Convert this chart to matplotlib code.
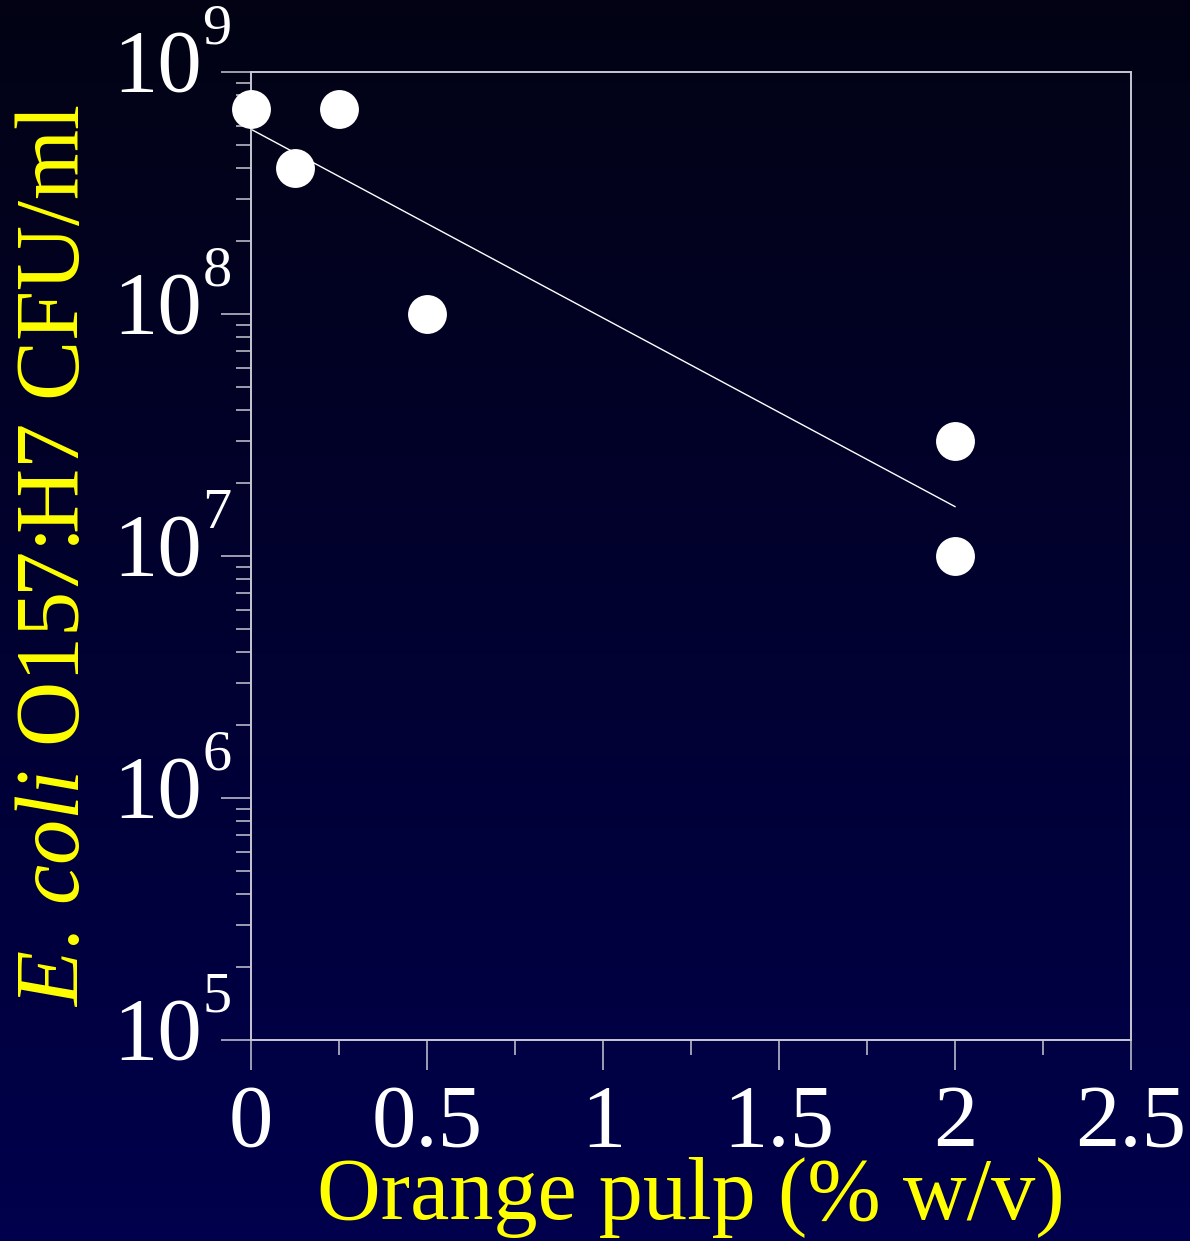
import matplotlib
matplotlib.use("Agg")
import matplotlib.pyplot as plt
import numpy as np
from matplotlib.ticker import FixedLocator, LogLocator, NullFormatter

plt.rcParams["font.family"] = ["Liberation Serif", "DejaVu Serif"]
plt.rcParams["mathtext.fontset"] = "custom"
plt.rcParams["mathtext.rm"] = "Liberation Serif"
plt.rcParams["mathtext.it"] = "Liberation Serif:italic"

# data
pulp = [0, 0.125, 0.25, 0.5, 2, 2]
cfu = [7.0e8, 4.0e8, 7.0e8, 1.0e8, 3.0e7, 1.0e7]
fit_x = [0, 2]
fit_y = [5.8e8, 1.6e7]
x_major = [0, 0.5, 1, 1.5, 2, 2.5]
x_labels = ["0", "0.5", "1", "1.5", "2", "2.5"]
y_major = [1e5, 1e6, 1e7, 1e8, 1e9]
y_exponents = ["5", "6", "7", "8", "9"]

fig = plt.figure(figsize=(11.9, 12.41), dpi=100)

# gradient background
bg = fig.add_axes([0, 0, 1, 1], zorder=-10)
grad = np.linspace(0, 1, 256).reshape(-1, 1)
top = np.array([0.01, 0.01, 0.08])
bottom = np.array([0.0, 0.0, 0.30])
img = top + (bottom - top) * grad[:, :, None]
bg.imshow(img, aspect="auto", extent=[0, 1, 0, 1], origin="upper")
bg.axis("off")

ax = fig.add_axes([251 / 1190, 1 - 1040 / 1241, 880 / 1190, 968 / 1241])
ax.set_facecolor("none")

ax.plot(fit_x, fit_y, color="white", linewidth=1.0, zorder=2)
ax.plot(pulp, cfu, "o", color="white", markersize=28, markeredgewidth=0,
        clip_on=False, zorder=3)

ax.set_yscale("log")
ax.set_xlim(0, 2.5)
ax.set_ylim(1e5, 1e9)

spine_col = "#c8c8d4"
for s in ax.spines.values():
    s.set_color(spine_col)
    s.set_linewidth(1.4)

ax.xaxis.set_major_locator(FixedLocator(x_major))
ax.set_xticklabels(x_labels)
ax.xaxis.set_minor_locator(FixedLocator([0.25, 0.75, 1.25, 1.75, 2.25]))
ax.yaxis.set_major_locator(FixedLocator(y_major))
ax.yaxis.set_minor_locator(LogLocator(base=10, subs=np.arange(2, 10)))
ax.yaxis.set_minor_formatter(NullFormatter())

ax.tick_params(which="major", direction="out", length=21.6, width=1.1,
               color=spine_col, labelcolor="white", labelsize=64)
ax.tick_params(which="minor", direction="out", length=10.8, width=1.1,
               color=spine_col)
ax.tick_params(axis="x", which="major", pad=10)
ax.tick_params(axis="y", labelleft=False)

# y tick labels as "10" with a large raised exponent
ytrans = ax.get_yaxis_transform()
for val, exp in zip(y_major, y_exponents):
    ax.annotate("10", xy=(0, val), xycoords=ytrans, xytext=(-35.5, -13.2),
                textcoords="offset points", ha="right", va="baseline",
                color="white", fontsize=64, annotation_clip=False)
    ax.annotate(exp, xy=(0, val), xycoords=ytrans, xytext=(-35.0, 20.5),
                textcoords="offset points", ha="left", va="baseline",
                color="white", fontsize=42, annotation_clip=False)

ax.set_xlabel("Orange pulp (% w/v)", color="yellow", fontsize=63.5, labelpad=-6)
ax.set_ylabel(r"$\mathit{E.\,coli}$ O157:H7 CFU/ml", color="yellow",
              fontsize=65)
ax.yaxis.set_label_coords(-0.174, 0.5)

fig.savefig("out.png", dpi=100)
